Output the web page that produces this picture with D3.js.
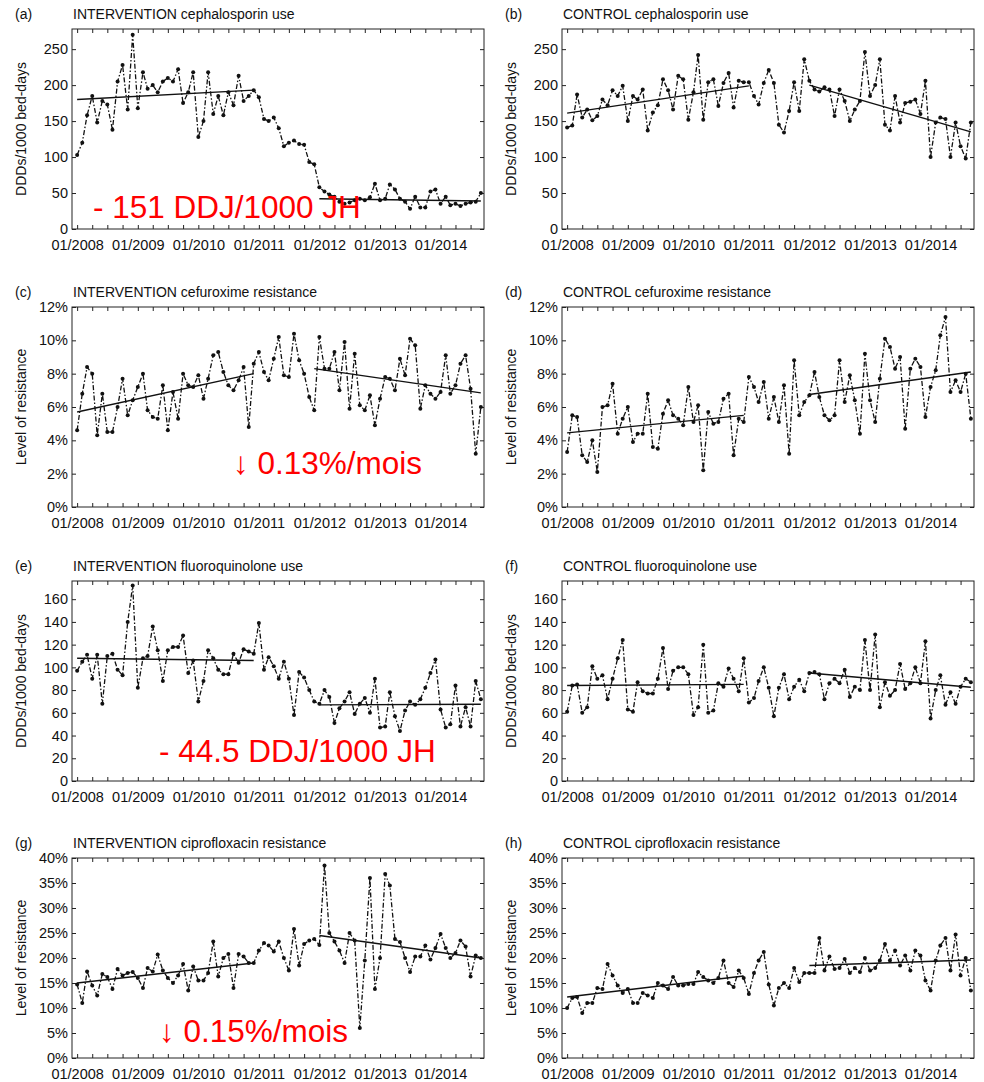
<!DOCTYPE html>
<html>
<head>
<meta charset="utf-8">
<script src="https://cdn.jsdelivr.net/npm/d3@7"></script>
<style>
body { margin: 0; background: #fff; }
svg { display: block; font-family: "Liberation Sans", Arial, sans-serif; }
.tick text { font-size: 14.5px; fill: #111; }
.tick line { stroke: #222; }
</style>
</head>
<body>
<svg width="984" height="1082"></svg>
<script>
// monthly series, 01/2008 .. 09/2014
const cephIntervention = [103, 120, 158, 185, 148, 178, 173, 138, 205, 228,
    166, 270, 168, 218, 195, 200, 190, 205, 210, 205,
    222, 175, 190, 218, 128, 150, 218, 160, 185, 158,
    190, 172, 213, 178, 185, 193, 183, 153, 150, 155,
    140, 115, 120, 123, 118, 117, 93, 90, 58, 52,
    48, 45, 38, 35, 37, 40, 42, 40, 44, 63,
    40, 42, 62, 55, 42, 38, 28, 45, 30, 30,
    52, 55, 35, 45, 33, 35, 32, 35, 37, 38, 50];
const cephControl = [141, 144, 187, 155, 166, 151, 157, 180, 172, 193,
    185, 199, 150, 185, 180, 194, 137, 162, 172, 208,
    193, 166, 213, 208, 152, 190, 242, 152, 204, 208,
    171, 203, 217, 169, 206, 204, 204, 185, 173, 203,
    221, 203, 145, 134, 164, 204, 164, 236, 206, 194,
    191, 197, 194, 157, 194, 178, 150, 166, 178, 246,
    185, 200, 236, 145, 137, 185, 148, 175, 177, 180,
    160, 206, 100, 148, 155, 153, 100, 148, 115, 98, 148];
const cefuroximeIntervention = [4.6, 6.8, 8.4, 8.0, 4.3, 6.8, 4.5, 4.5, 6.0, 7.7,
    5.5, 6.4, 7.2, 8.0, 5.8, 5.4, 5.3, 7.3, 4.6, 6.9,
    5.3, 8.0, 7.3, 7.2, 7.9, 6.5, 7.7, 9.1, 9.3, 8.1,
    7.3, 7.0, 7.6, 8.4, 4.8, 8.6, 9.3, 8.1, 7.6, 8.9,
    10.2, 7.9, 7.8, 10.4, 8.8, 8.0, 6.6, 5.8, 10.2, 8.3,
    8.3, 9.3, 7.0, 9.9, 5.9, 9.2, 6.1, 5.8, 6.7, 4.9,
    6.5, 7.8, 7.7, 7.0, 8.9, 7.9, 10.1, 9.7, 5.9, 7.3,
    6.8, 6.5, 6.9, 9.1, 6.8, 7.3, 8.6, 9.1, 7.1, 3.2, 6.0];
const cefuroximeControl = [3.3, 5.5, 5.4, 3.1, 2.7, 4.0, 2.1, 6.0, 6.1, 7.4,
    4.4, 5.3, 6.0, 3.9, 4.4, 4.4, 6.8, 3.6, 3.5, 5.6,
    6.4, 5.5, 5.3, 4.9, 7.2, 5.1, 6.1, 2.2, 5.7, 5.0,
    5.1, 6.5, 6.8, 3.1, 5.3, 5.1, 7.8, 7.2, 6.3, 7.5,
    5.3, 6.6, 5.1, 7.3, 3.2, 8.8, 5.5, 6.3, 6.7, 8.1,
    6.6, 5.5, 5.2, 5.5, 8.8, 6.3, 7.9, 6.4, 4.4, 9.2,
    6.4, 5.1, 7.7, 10.1, 9.6, 8.3, 9.0, 4.7, 8.3, 8.9,
    8.4, 5.4, 7.2, 8.2, 10.3, 11.4, 6.9, 7.6, 6.9, 8.0, 5.3];
const fluoroIntervention = [97, 105, 111, 90, 111, 68, 110, 112, 98, 93,
    140, 172, 82, 108, 110, 136, 115, 88, 115, 118,
    118, 128, 95, 106, 70, 88, 115, 108, 98, 94,
    94, 112, 104, 116, 114, 112, 139, 98, 109, 101,
    90, 105, 90, 58, 96, 91, 80, 70, 68, 80,
    74, 51, 64, 70, 78, 59, 68, 73, 60, 90,
    47, 48, 78, 57, 44, 62, 70, 67, 72, 82,
    95, 107, 63, 47, 50, 84, 48, 65, 48, 88, 72];
const fluoroControl = [61, 84, 85, 60, 65, 101, 90, 93, 72, 90,
    108, 124, 63, 61, 87, 79, 77, 77, 90, 117,
    81, 97, 100, 100, 94, 58, 65, 120, 60, 62,
    86, 83, 99, 90, 79, 108, 69, 73, 88, 100,
    82, 57, 82, 94, 72, 83, 89, 79, 95, 96,
    94, 72, 86, 90, 86, 98, 74, 83, 80, 124,
    80, 129, 65, 87, 75, 80, 103, 81, 86, 100,
    86, 123, 55, 80, 93, 67, 78, 68, 83, 90, 87];
const ciproIntervention = [14.7, 11.0, 17.3, 14.5, 12.5, 16.8, 16.2, 13.8, 17.8, 16.5,
    17.0, 17.2, 16.0, 14.0, 18.0, 17.3, 20.7, 17.5, 16.0, 15.0,
    16.5, 18.8, 13.5, 18.3, 15.5, 15.5, 17.0, 23.3, 16.3, 20.0,
    20.8, 14.0, 20.8, 20.3, 19.0, 19.0, 21.5, 23.0, 22.5, 21.3,
    23.3, 20.0, 17.5, 25.8, 18.5, 22.8, 23.5, 23.8, 22.6, 38.5,
    25.0, 23.3, 21.5, 19.0, 25.0, 23.5, 6.0, 19.5, 36.0, 13.8,
    20.0, 36.8, 34.5, 23.8, 23.2, 20.0, 17.2, 20.3, 20.3, 22.5,
    19.7, 22.0, 24.8, 22.0, 20.0, 21.0, 23.5, 22.3, 16.3, 20.5, 20.0];
const ciproControl = [10.0, 12.0, 12.2, 9.0, 11.0, 11.0, 14.0, 13.8, 18.8, 16.5,
    14.5, 13.0, 13.8, 11.0, 11.0, 13.0, 12.5, 12.0, 15.0, 14.5,
    13.8, 16.2, 14.5, 14.5, 14.8, 14.8, 17.2, 16.2, 15.5, 15.0,
    16.0, 19.5, 15.0, 14.2, 17.5, 16.0, 12.8, 17.0, 19.5, 21.2,
    14.7, 10.5, 14.0, 15.0, 14.0, 18.0, 15.2, 17.0, 17.0, 17.0,
    24.0, 17.5, 20.3, 17.8, 18.0, 19.8, 17.0, 18.0, 17.2, 20.0,
    17.5, 18.0, 19.5, 22.8, 19.5, 21.5, 18.5, 20.5, 17.5, 21.5,
    20.5, 15.5, 13.5, 19.5, 22.5, 24.0, 17.5, 24.7, 16.5, 20.0, 13.5];

// segmented regression lines: [month index, value] pairs
const trendCephIntervention = [[[0, 180], [35, 193]], [[48, 42], [80, 39]]];
const trendCephControl = [[[0, 161], [36, 199]], [[48, 200], [80, 135]]];
const trendCefIntervention = [[[0, 5.7], [35, 8.0]], [[47, 8.3], [80, 6.85]]];
const trendCefControl = [[[0, 4.45], [35, 5.5]], [[48, 6.75], [80, 8.1]]];
const trendFluoroIntervention = [[[0, 108], [35, 106]], [[48, 67], [80, 67.5]]];
const trendFluoroControl = [[[0, 84], [35, 85]], [[48, 95], [80, 82.5]]];
const trendCiproIntervention = [[[0, 15.0], [35, 19.0]], [[48, 24.5], [80, 20.0]]];
const trendCiproControl = [[[0, 12.2], [35, 16.4]], [[48, 18.5], [80, 19.6]]];

const panelLetters = ["(a)", "(b)", "(c)", "(d)", "(e)", "(f)", "(g)", "(h)"];
const panelTitles = ["INTERVENTION cephalosporin use", "CONTROL cephalosporin use",
    "INTERVENTION cefuroxime resistance", "CONTROL cefuroxime resistance",
    "INTERVENTION fluoroquinolone use", "CONTROL fluoroquinolone use",
    "INTERVENTION ciprofloxacin resistance", "CONTROL ciprofloxacin resistance"];
const rowYLabels = ["DDDs/1000 bed-days", "Level of resistance", "DDDs/1000 bed-days", "Level of resistance"];
const rowTicks = [[0, 50, 100, 150, 200, 250], [0, 2, 4, 6, 8, 10, 12],
    [0, 20, 40, 60, 80, 100, 120, 140, 160], [0, 5, 10, 15, 20, 25, 30, 35, 40]];
const rowMax = [278, 12, 176, 40];
const rowPercent = [false, true, false, true];
const annotations = ["- 151 DDJ/1000 JH", "\u2193 0.13%/mois", "- 44.5 DDJ/1000 JH", "\u2193 0.15%/mois"];

const seriesList = [cephIntervention, cephControl, cefuroximeIntervention, cefuroximeControl,
    fluoroIntervention, fluoroControl, ciproIntervention, ciproControl];
const trendList = [trendCephIntervention, trendCephControl, trendCefIntervention, trendCefControl,
    trendFluoroIntervention, trendFluoroControl, trendCiproIntervention, trendCiproControl];

const firstMonth = new Date(2008, 0, 1);
const monthDate = i => d3.timeMonth.offset(firstMonth, i);
const xDomain = [new Date(2007, 11, 1), new Date(2014, 8, 20)];

const colX = [72, 562];
const rowY = [29, 307, 581, 858];
const pw = 412, ph = 200;
const annotPos = [[21, 189], [161, 167], [87, 181], [87, 184]];

const svg = d3.select("svg");

seriesList.forEach((values, k) => {
    const col = k % 2, row = Math.floor(k / 2);
    const g = svg.append("g")
        .attr("transform", "translate(" + colX[col] + "," + rowY[row] + ")");

    const x = d3.scaleTime().domain(xDomain).range([0, pw]);
    const y = d3.scaleLinear().domain([0, rowMax[row]]).range([ph, 0]);
    const fmtY = rowPercent[row] ? d => d + "%" : d => d;
    const monthTicks = d3.timeMonth.every(3);

    g.append("g")
        .call(d3.axisLeft(y).tickValues(rowTicks[row]).tickSize(-4).tickPadding(4).tickFormat(fmtY))
        .call(a => a.select(".domain").remove());
    g.append("g")
        .attr("transform", "translate(" + pw + ",0)")
        .call(d3.axisRight(y).tickValues(rowTicks[row]).tickSize(-4).tickFormat(""))
        .call(a => a.select(".domain").remove());
    g.append("g")
        .attr("transform", "translate(0," + ph + ")")
        .call(d3.axisBottom(x).ticks(monthTicks).tickSize(-4).tickPadding(11)
            .tickFormat(d => d.getMonth() === 0 ? d3.timeFormat("%m/%Y")(d) : ""))
        .call(a => a.select(".domain").remove());
    g.append("g")
        .call(d3.axisTop(x).ticks(monthTicks).tickSize(-4).tickFormat(""))
        .call(a => a.select(".domain").remove());

    g.append("rect")
        .attr("width", pw)
        .attr("height", ph)
        .attr("fill", "none")
        .attr("stroke", "#222")
        .attr("stroke-width", 1);

    const line = d3.line()
        .x((d, i) => x(monthDate(i)))
        .y(d => y(d));

    g.append("path")
        .datum(values)
        .attr("d", line)
        .attr("fill", "none")
        .attr("stroke", "#111")
        .attr("stroke-width", 1.3)
        .attr("stroke-dasharray", "5,2,1.5,2");

    g.selectAll(".pt")
        .data(values)
        .enter().append("circle")
        .attr("class", "pt")
        .attr("cx", (d, i) => x(monthDate(i)))
        .attr("cy", d => y(d))
        .attr("r", 2)
        .attr("fill", "#111");

    const trendLine = d3.line()
        .x(d => x(monthDate(d[0])))
        .y(d => y(d[1]));

    trendList[k].forEach(seg => {
        g.append("path")
            .attr("d", trendLine(seg))
            .attr("fill", "none")
            .attr("stroke", "#111")
            .attr("stroke-width", 1.4);
    });

    // titles
    g.append("text")
        .attr("x", -57)
        .attr("y", -10)
        .attr("font-size", "14px")
        .attr("fill", "#111")
        .text(panelLetters[k]);
    g.append("text")
        .attr("x", 1)
        .attr("y", -10)
        .attr("font-size", "14px")
        .attr("fill", "#111")
        .text(panelTitles[k]);

    g.append("text")
        .attr("transform", "translate(-50," + (ph / 2) + ") rotate(-90)")
        .attr("text-anchor", "middle")
        .attr("dominant-baseline", "middle")
        .attr("font-size", "14px")
        .attr("fill", "#111")
        .text(rowYLabels[row]);

    if (col === 0) {
        g.append("text")
            .attr("x", annotPos[row][0])
            .attr("y", annotPos[row][1])
            .attr("font-size", "31.5px")
            .attr("fill", "#ff0000")
            .text(annotations[row]);
    }
});
</script>
</body>
</html>
